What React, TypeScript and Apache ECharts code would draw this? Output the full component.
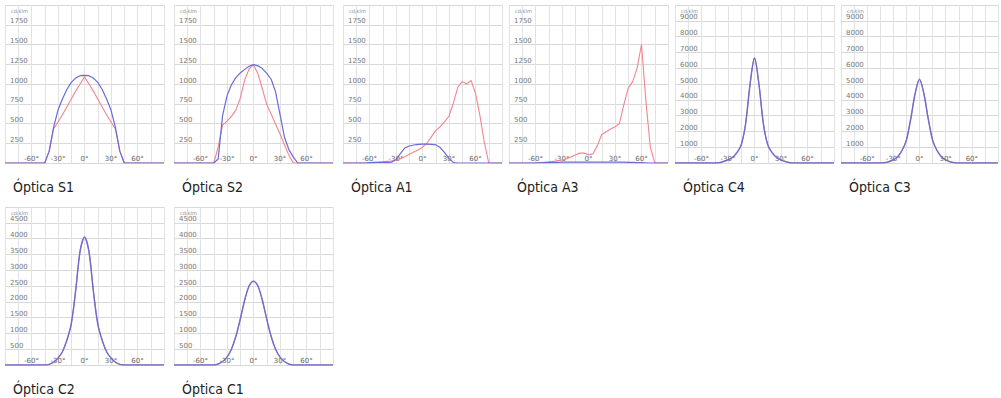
import React, { useEffect, useRef } from "react";
import * as echarts from "echarts";

// Angles (degrees) shared by every curve
const ANGLES = [-90, -85, -80, -75, -70, -65, -60, -55, -50, -45, -40, -35, -30, -25, -20, -15, -10, -5, 0, 5, 10, 15, 20, 25, 30, 35, 40, 45, 50, 55, 60, 65, 70, 75, 80, 85, 90];
const X_TICK_LABELS = [-60, -30, 0, 30, 60];

// Intensity values (cd/klm) — blue = C0-C180 plane, red = C90-C270 plane
const S1_BLUE = [0,0,0,0,0,0,0,0,0,0,150,450,670,810,930,1020,1075,1105,1110,1105,1075,1020,930,810,670,450,150,0,0,0,0,0,0,0,0,0,0];
const S1_RED = [0,0,0,0,0,0,0,0,0,0,150,430,520,610,710,810,910,1000,1090,1000,910,810,710,610,520,430,150,0,0,0,0,0,0,0,0,0,0];
const S2_BLUE = [0,0,0,0,0,0,0,0,0,0,50,600,850,990,1080,1140,1185,1225,1245,1230,1195,1135,1060,900,615,330,170,78,0,0,0,0,0,0,0,0,0];
const S2_RED = [0,0,0,0,0,0,0,0,0,0,200,480,530,590,670,820,1050,1190,1245,1130,940,740,620,490,370,230,100,0,0,0,0,0,0,0,0,0,0];
const A1_BLUE = [0,0,0,0,0,0,5,8,8,8,8,10,40,120,190,215,228,235,238,238,237,230,195,130,58,5,0,0,0,0,0,0,0,0,0,0,0];
const A1_RED = [0,0,0,0,0,0,0,5,10,15,20,25,40,55,80,110,140,165,200,250,330,409,460,520,595,760,960,1030,1000,1045,880,600,260,0,0,0,0];
const A3_BLUE = [0,0,0,0,0,0,0,3,5,6,8,8,10,10,12,12,12,12,12,12,12,12,12,12,10,10,10,8,8,6,5,3,0,0,0,0,0];
const A3_RED = [0,0,0,0,0,0,0,5,10,15,20,30,38,50,75,100,125,125,105,115,220,360,395,430,458,500,740,950,1030,1200,1500,780,200,0,0,0,0];
const C4_BLUE = [0,0,0,0,0,0,0,0,0,0,20,90,200,350,650,1150,2500,5000,6650,5000,2500,1150,650,350,200,90,20,0,0,0,0,0,0,0,0,0,0];
const C4_RED = [0,0,0,0,0,0,0,0,0,0,20,90,200,350,650,1150,2500,5000,6650,5000,2500,1150,650,350,200,90,20,0,0,0,0,0,0,0,0,0,0];
const C3_BLUE = [0,0,0,0,0,0,0,0,0,0,20,80,200,400,800,1450,2800,4400,5300,4400,2800,1450,800,400,200,80,20,0,0,0,0,0,0,0,0,0,0];
const C3_RED = [0,0,0,0,0,0,0,0,0,0,20,80,200,400,800,1450,2800,4400,5300,4400,2800,1450,800,400,200,80,20,0,0,0,0,0,0,0,0,0,0];
const C2_BLUE = [0,0,0,0,0,0,0,0,0,0,20,90,220,420,780,1300,2350,3600,4050,3600,2350,1300,780,420,220,90,20,0,0,0,0,0,0,0,0,0,0];
const C2_RED = [0,0,0,0,0,0,0,0,0,0,20,90,220,420,780,1300,2350,3600,4050,3600,2350,1300,780,420,220,90,20,0,0,0,0,0,0,0,0,0,0];
const C1_BLUE = [0,0,0,0,0,0,0,0,0,0,30,110,250,500,900,1450,2050,2500,2650,2500,2050,1450,900,500,250,110,30,0,0,0,0,0,0,0,0,0,0];
const C1_RED = [0,0,0,0,0,0,0,0,0,0,30,110,250,500,900,1450,2050,2500,2650,2500,2050,1450,900,500,250,110,30,0,0,0,0,0,0,0,0,0,0];

const NAMES = ["Óptica S1", "Óptica S2", "Óptica A1", "Óptica A3", "Óptica C4", "Óptica C3", "Óptica C2", "Óptica C1"];
const Y_MAX = [2000, 2000, 2000, 2000, 10000, 10000, 5000, 5000];
const Y_STEP = [250, 250, 250, 250, 1000, 1000, 500, 500];
const BLUE = [S1_BLUE, S2_BLUE, A1_BLUE, A3_BLUE, C4_BLUE, C3_BLUE, C2_BLUE, C1_BLUE];
const RED = [S1_RED, S2_RED, A1_RED, A3_RED, C4_RED, C3_RED, C2_RED, C1_RED];

const COL_LEFT = [5, 174, 343, 509, 675, 841];
const ROW_TOP = [5, 207];
const W = 159;
const H = 158;

export default function App() {
  const ref = useRef<HTMLDivElement>(null);
  useEffect(() => {
    if (!ref.current) return;
    const chart = echarts.init(ref.current, null, { renderer: "svg" });
    const pos = NAMES.map((_, i) => ({
      left: COL_LEFT[i % 6],
      top: ROW_TOP[i < 6 ? 0 : 1],
    }));
    const grids = pos.map((p) => ({ left: p.left, top: p.top, width: W, height: H, show: false }));
    const xAxes = NAMES.map((_, i) => ({
      gridIndex: i,
      type: "value",
      min: -90,
      max: 90,
      interval: 15,
      axisLine: { show: false },
      axisTick: { show: false },
      axisLabel: {
        inside: true,
        margin: 1,
        fontSize: 7,
        color: "#666",
        fontFamily: "DejaVu Sans",
        formatter: (v: number) => (X_TICK_LABELS.indexOf(v) >= 0 ? v + "°" : ""),
      },
      splitLine: { show: true, lineStyle: { color: "#e2e2e2", width: 1 } },
    }));
    const yAxes = NAMES.map((_, i) => ({
      gridIndex: i,
      type: "value",
      min: 0,
      max: Y_MAX[i],
      interval: Y_STEP[i],
      axisLine: { show: false },
      axisTick: { show: false },
      axisLabel: {
        inside: true,
        margin: 5,
        fontSize: 7,
        color: "#777",
        fontFamily: "DejaVu Sans",
        verticalAlign: "bottom",
        showMinLabel: false,
        showMaxLabel: false,
        formatter: (v: number) => String(v),
      },
      splitLine: { show: true, lineStyle: { color: "#d8d8d8", width: 1 } },
    }));
    const series: any[] = [];
    NAMES.forEach((name, i) => {
      const isC = i >= 4;
      series.push({
        type: "line",
        name: name + " C90",
        xAxisIndex: i,
        yAxisIndex: i,
        data: ANGLES.map((a, k) => [a, RED[i][k]]),
        symbol: "none",
        smooth: isC ? 0.3 : false,
        lineStyle: { color: isC ? "#9a4a78" : "#f2868e", width: isC ? 1.0 : 1.1 },
        z: 2,
      });
      series.push({
        type: "line",
        name: name + " C0",
        xAxisIndex: i,
        yAxisIndex: i,
        data: ANGLES.map((a, k) => [a, BLUE[i][k]]),
        symbol: "none",
        smooth: isC ? 0.3 : false,
        lineStyle: { color: "#6a6ad8", width: isC ? 1.5 : 1.2, opacity: isC ? 0.8 : 1 },
        z: 3,
      });
    });
    const graphic: any[] = [];
    pos.forEach((p, i) => {
      graphic.push({
        type: "text",
        x: p.left + 8,
        y: p.top + 182,
        style: {
          text: NAMES[i],
          font: '14px "Liberation Sans Narrow", "DejaVu Sans Condensed", "Noto Sans", sans-serif',
          fill: "#222",
          verticalAlign: "middle",
        },
      });
      graphic.push({
        type: "text",
        x: p.left + 6,
        y: p.top + 6,
        style: {
          text: "cd/klm",
          font: '5px "DejaVu Sans", sans-serif',
          fill: "#888",
          verticalAlign: "middle",
        },
      });
    });
    chart.setOption({
      animation: false,
      backgroundColor: "#ffffff",
      grid: grids,
      xAxis: xAxes,
      yAxis: yAxes,
      series,
      graphic,
    });
    return () => chart.dispose();
  }, []);
  return (
    <div
      ref={ref}
      style={{ position: "fixed", left: 0, top: 0, width: 1001, height: 398, background: "#fff" }}
    />
  );
}
